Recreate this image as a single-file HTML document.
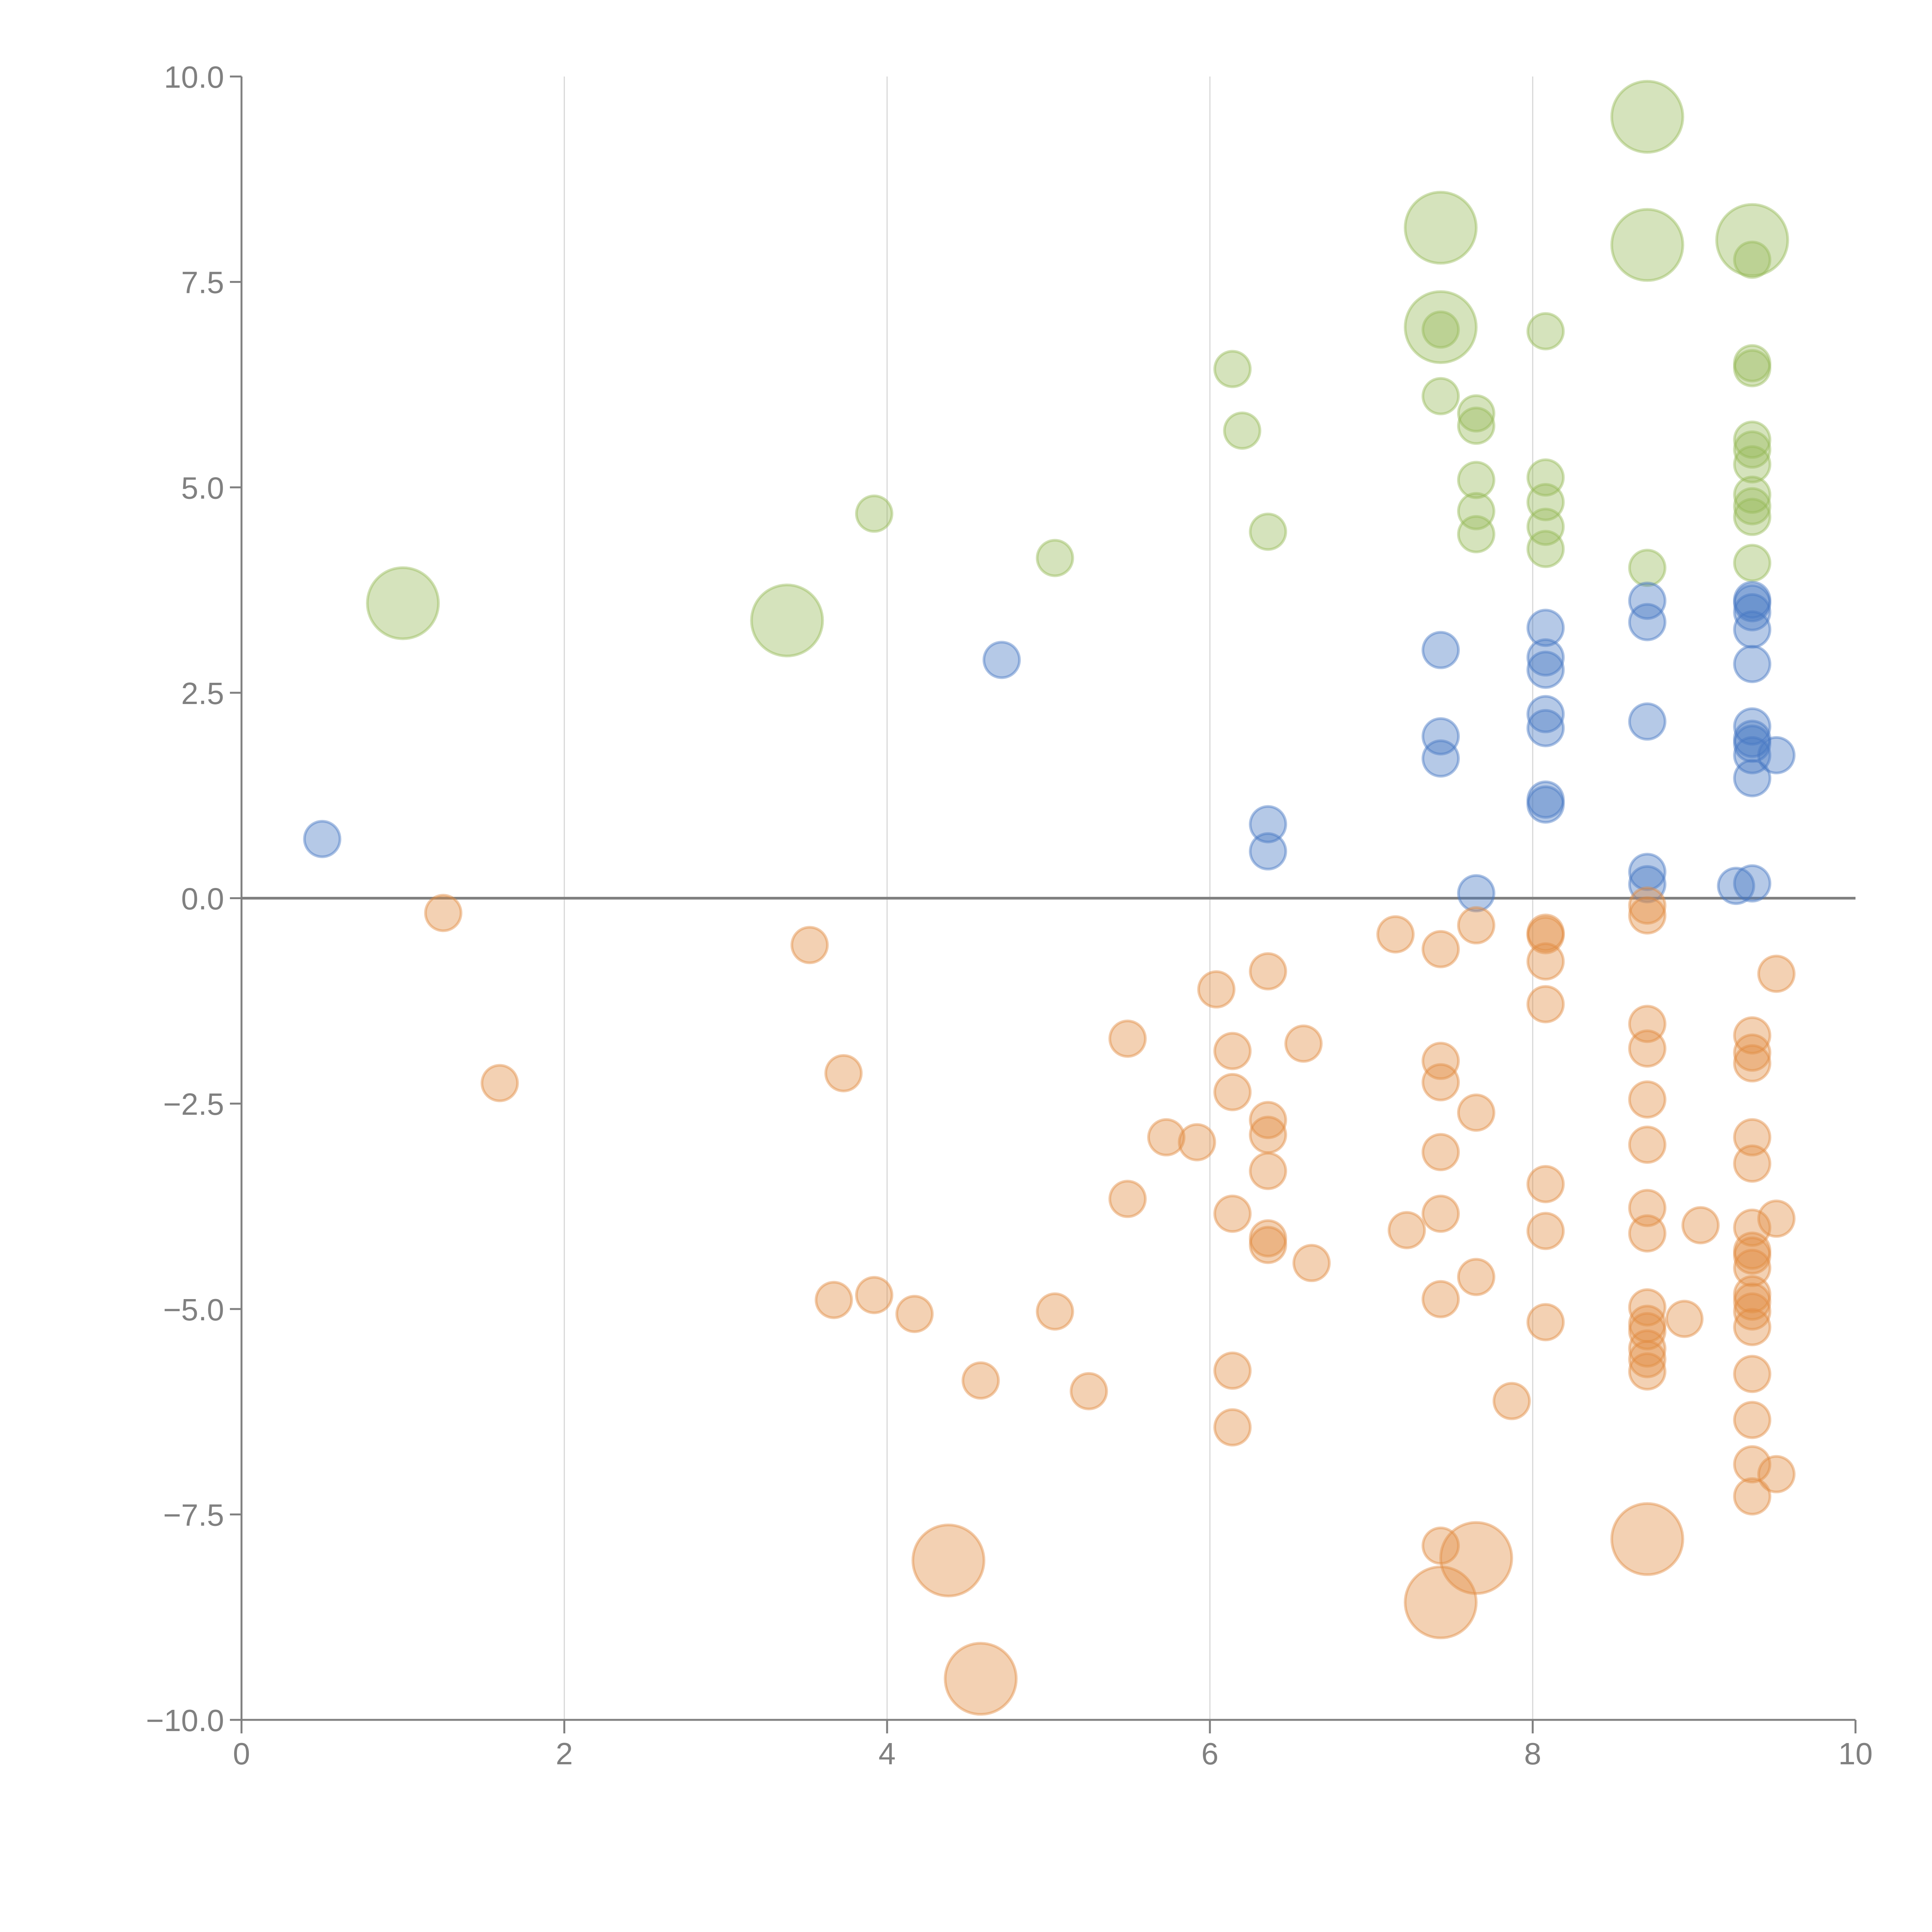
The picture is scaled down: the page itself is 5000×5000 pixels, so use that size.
<!DOCTYPE html>
<html><head><meta charset="utf-8"><style>
html,body{margin:0;padding:0;background:#fff;width:5000px;height:5000px;overflow:hidden}
svg{display:block}
text{font-family:"Liberation Sans",sans-serif;fill:#808080;font-size:80px}
</style></head><body>
<svg id="chart" width="5000" height="5000" viewBox="0 0 5000 5000" xmlns="http://www.w3.org/2000/svg">
<g id="grid"></g>
<g id="axes"></g>
<g id="marks"></g>
</svg>
<script>
const xTicks=[0,2,4,6,8,10];
const yTicks=[-10,-7.5,-5,-2.5,0,2.5,5,7.5,10];
const yTickLabels=["\u221210.0","\u22127.5","\u22125.0","\u22122.5","0.0","2.5","5.0","7.5","10.0"];
const greenX=[1.0,3.38,3.92,5.04,6.14,6.2,6.36,7.43,7.43,7.43,7.43,7.65,7.65,7.65,7.65,7.65,8.08,8.08,8.08,8.08,8.08,8.71,8.71,8.71,9.36,9.36,9.36,9.36,9.36,9.36,9.36,9.36,9.36,9.36,9.36];
const greenY=[3.59,3.38,4.68,4.14,6.44,5.69,4.46,8.16,6.95,6.92,6.11,5.90,5.75,5.09,4.71,4.43,6.90,5.12,4.82,4.52,4.25,9.51,7.95,4.02,8.01,7.77,6.51,6.45,5.58,5.46,5.28,4.91,4.77,4.64,4.08];
const greenS=[3,3,1,1,1,1,1,3,3,1,1,1,1,1,1,1,1,1,1,1,1,3,3,1,3,1,1,1,1,1,1,1,1,1,1];
const blueX=[0.5,4.71,6.36,6.36,7.43,7.43,7.43,7.65,8.08,8.08,8.08,8.08,8.08,8.08,8.08,8.71,8.71,8.71,8.71,8.71,9.26,9.36,9.36,9.36,9.36,9.36,9.36,9.36,9.36,9.36,9.36,9.51,9.36];
const blueY=[0.72,2.90,0.90,0.57,3.02,1.97,1.70,0.06,3.29,2.93,2.78,2.24,2.07,1.20,1.14,3.62,3.36,2.15,0.32,0.17,0.15,3.63,3.48,3.27,2.85,2.09,1.94,1.88,1.74,1.46,0.18,1.74,3.59];
const orangeX=[1.25,1.6,3.52,3.73,3.67,3.92,4.17,4.58,5.04,5.25,5.49,5.49,5.73,5.92,6.04,6.14,6.14,6.14,6.14,6.14,6.36,6.36,6.36,6.36,6.36,6.36,6.58,6.63,7.15,7.22,7.43,7.43,7.43,7.43,7.43,7.43,7.43,7.65,7.65,7.65,7.87,8.08,8.08,8.08,8.08,8.08,8.08,8.08,8.71,8.71,8.71,8.71,8.71,8.71,8.71,8.71,8.71,8.71,8.71,8.71,8.71,8.71,8.94,9.04,9.36,9.36,9.36,9.36,9.36,9.36,9.36,9.36,9.36,9.36,9.36,9.36,9.36,9.36,9.36,9.36,9.36,9.51,9.51,9.51,4.38,4.58,7.43,7.65,8.71];
const orangeY=[-0.18,-2.25,-0.57,-2.13,-4.89,-4.83,-5.06,-5.87,-5.03,-6.00,-1.71,-3.66,-2.91,-2.97,-1.11,-1.86,-2.36,-3.84,-5.75,-6.44,-0.89,-2.70,-2.88,-3.32,-4.14,-4.22,-1.77,-4.44,-0.44,-4.04,-0.62,-1.98,-2.24,-3.09,-3.84,-4.88,-7.88,-0.33,-2.61,-4.61,-6.12,-0.45,-0.42,-0.77,-1.29,-3.48,-4.05,-5.16,-0.09,-0.21,-1.53,-1.83,-2.45,-3.00,-3.77,-4.08,-4.98,-5.18,-5.27,-5.48,-5.61,-5.76,-5.12,-3.98,-1.67,-1.88,-2.01,-2.91,-3.23,-4.01,-4.29,-4.35,-4.50,-4.82,-4.91,-5.03,-5.22,-5.79,-6.35,-6.89,-7.28,-0.92,-3.90,-7.01,-8.06,-9.50,-8.57,-8.03,-7.80];
const orangeS=orangeX.map((v,i)=>i>=orangeX.length-5?3:1);

const X0=625,X1=4802,Y0=4451,Y1=198;
function sx(v){return X0+(v-0)/(10-0)*(X1-X0);}
function sy(v){return Y0-(v+10)/20*(Y0-Y1);}
const NS="http://www.w3.org/2000/svg";
function mk(tag,attrs,parent){const e=document.createElementNS(NS,tag);for(const k in attrs)e.setAttribute(k,attrs[k]);parent.appendChild(e);return e;}
const grid=document.getElementById('grid'),axes=document.getElementById('axes'),marks=document.getElementById('marks');

xTicks.forEach((t,i)=>{
  if(t>0&&t<10){
    const g=mk('line',{x1:sx(t),x2:sx(t),y1:sy(10),y2:sy(-10),stroke:'#d8d8d8','stroke-width':3},grid);
    
    
  }
  const tk=mk('line',{x1:sx(t),x2:sx(t),y1:Y0,y2:Y0+35,stroke:'#808080','stroke-width':5},axes);
  
  
  const tx=mk('text',{x:sx(t),y:Y0+115,'text-anchor':'middle'},axes);
  tx.textContent=String(t);
  
  
});
yTicks.forEach((t,i)=>{
  const tk=mk('line',{x1:X0-30,x2:X0,y1:sy(t),y2:sy(t),stroke:'#808080','stroke-width':5},axes);
  
  
  const tx=mk('text',{x:X0-45,y:sy(t)+29,'text-anchor':'end'},axes);
  tx.textContent=yTickLabels[i];
  
  
});
const ya=mk('line',{x1:X0,x2:X0,y1:Y1,y2:Y0,stroke:'#808080','stroke-width':5},axes);


const xa=mk('line',{x1:X0-30,x2:X1,y1:Y0,y2:Y0,stroke:'#808080','stroke-width':5},axes);



function series(xs,ys,ss,color,name){
  xs.forEach((x,i)=>{
    const r=ss[i]===3?92:46;
    const c=mk('circle',{cx:sx(x),cy:sy(ys[i]),r:r,fill:color,'fill-opacity':0.4,stroke:color,'stroke-opacity':0.45,'stroke-width':7},marks);
    
    
  });
}
series(greenX,greenY,greenS,'rgb(150,186,88)','green-bubble');
series(blueX,blueY,blueX.map(()=>1),'rgb(70,120,195)','blue-bubble');
series(orangeX,orangeY,orangeS,'rgb(226,140,66)','orange-bubble');

const zl=mk('line',{x1:X0,x2:X1,y1:sy(0),y2:sy(0),stroke:'#808080','stroke-width':7},axes);


</script>
</body></html>
